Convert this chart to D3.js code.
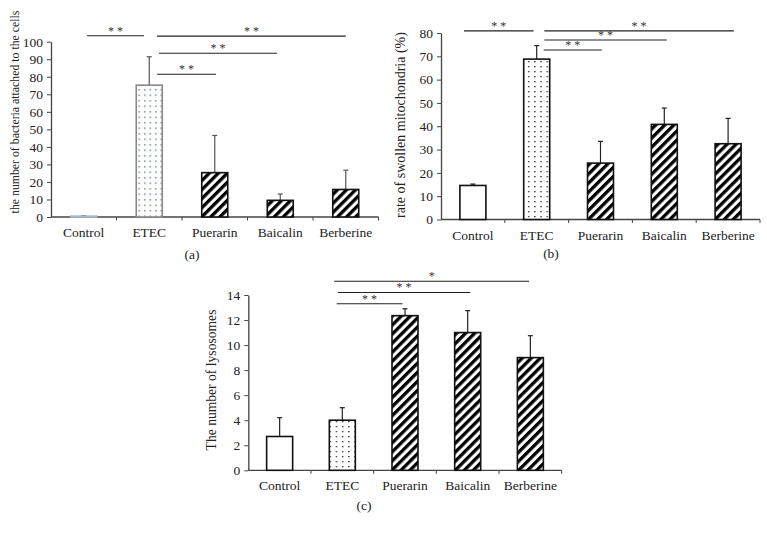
<!DOCTYPE html>
<html><head><meta charset="utf-8">
<script src="https://cdn.jsdelivr.net/npm/d3@7"></script>
<style>
html,body{margin:0;padding:0;background:#fff;}
svg{display:block;font-family:"Liberation Serif","Times New Roman",serif;}
</style></head>
<body>
<svg id="chart" width="767" height="534"></svg>
<script>
// ---- data ----
const categories = ["Control", "ETEC", "Puerarin", "Baicalin", "Berberine"];
const fills = ["plain", "dots", "hatch", "hatch", "hatch"];

const bacteriaMean = [0.5, 75.2, 25.3, 9.5, 15.7];
const bacteriaErr  = [0.3, 16.2, 21.2, 3.6, 11.0];
const bacteriaTicks = [0, 10, 20, 30, 40, 50, 60, 70, 80, 90, 100];

const mitoMean = [14.6, 68.8, 24.2, 40.8, 32.5];
const mitoErr  = [0.6, 5.8, 9.3, 7.0, 10.9];
const mitoTicks = [0, 10, 20, 30, 40, 50, 60, 70, 80];

const lysoMean = [2.7, 4.0, 12.35, 11.0, 9.0];
const lysoErr  = [1.5, 1.0, 0.55, 1.75, 1.75];
const lysoTicks = [0, 2, 4, 6, 8, 10, 12, 14];

// significance brackets: [from category pos, to category pos, level (data units), label]
const sigA = [[0.05, 0.92, 103.4, "* *"], [1.12, 4.0, 103.2, "* *"], [1.15, 2.95, 93.4, "* *"], [1.12, 2.02, 81.4, "* *"]];
const sigB = [[-0.14, 0.95, 80.9, "* *"], [1.12, 4.09, 80.9, "* *"], [1.12, 3.04, 77.0, "* *"], [1.11, 2.02, 72.7, "* *"]];
const sigC = [[0.91, 1.96, 13.3, "* *"], [0.93, 3.04, 14.2, "* *"], [0.87, 3.98, 15.1, "*"]];

// ---- drawing ----
const svg = d3.select("#chart");
const defs = svg.append("defs");

function hatch(id) {
  const p = defs.append("pattern").attr("id", id).attr("patternUnits", "userSpaceOnUse")
    .attr("width", 6.4).attr("height", 6.4).attr("patternTransform", "rotate(45)");
  p.append("rect").attr("width", 6.4).attr("height", 6.4).attr("fill", "#fff");
  p.append("rect").attr("width", 3.3).attr("height", 6.4).attr("fill", "#000");
}
function dots(id, color, w, h, s) {
  const p = defs.append("pattern").attr("id", id).attr("patternUnits", "userSpaceOnUse")
    .attr("width", w).attr("height", h);
  p.append("rect").attr("width", w).attr("height", h).attr("fill", "#fff");
  p.append("rect").attr("x", 1).attr("y", 1).attr("width", s).attr("height", s).attr("fill", color);
}
hatch("hatch");
dots("dotsA", "#6f89a8", 5.5, 5.5, 1.5);
dots("dotsB", "#222", 6.2, 5, 1.3);

function panel(cfg) {
  const g = svg.append("g");
  const x = d3.scaleBand().domain(categories).range(cfg.xr).paddingInner(0).paddingOuter(0);
  const y = d3.scaleLinear().domain([0, cfg.ymax]).range(cfg.yr);
  const bw = x.bandwidth();
  const pos = i => cfg.xr[0] + (i + 0.5) * bw;
  const barW = 26;

  // y axis
  const ya = g.append("g").attr("transform", `translate(${cfg.xr[0]},0)`)
    .call(d3.axisLeft(y).tickValues(cfg.ticks).tickSize(4).tickPadding(4).tickSizeOuter(0));
  ya.select(".domain").attr("stroke", "#444").attr("stroke-width", 1.3);
  ya.selectAll(".tick line").attr("stroke", "#444");
  ya.selectAll(".tick text").attr("fill", "#222").style("font-size", "13.5px")
    .style("font-family", "Liberation Serif");

  // x axis with ticks on band boundaries
  const base = y(0);
  g.append("line").attr("x1", cfg.xr[0]).attr("x2", cfg.xr[1]).attr("y1", base).attr("y2", base)
    .attr("stroke", "#444").attr("stroke-width", 1.3);
  g.selectAll(".xt").data(categories.slice(1).concat(["end"])).join("line")
    .attr("x1", (d, i) => cfg.xr[0] + (i + 1) * bw).attr("x2", (d, i) => cfg.xr[0] + (i + 1) * bw)
    .attr("y1", base).attr("y2", base + 3.5).attr("stroke", "#444");
  g.selectAll(".xl").data(categories).join("text")
    .attr("x", d => x(d) + bw / 2).attr("y", base + 20)
    .attr("text-anchor", "middle").attr("fill", "#222").style("font-size", "13.5px").text(d => d);

  // bars
  cfg.mean.forEach((v, i) => {
    const cx = x(categories[i]) + bw / 2;
    const f = fills[i];
    g.append("line").attr("x1", cx).attr("x2", cx).attr("y1", y(v)).attr("y2", y(v + cfg.err[i]))
      .attr("stroke", cfg.errColor).attr("stroke-width", 1.2);
    g.append("line").attr("x1", cx - 2.5).attr("x2", cx + 2.5)
      .attr("y1", y(v + cfg.err[i])).attr("y2", y(v + cfg.err[i]))
      .attr("stroke", cfg.errColor).attr("stroke-width", 1.2);
    let fill = "#fff", stroke = "#111";
    if (f === "dots") { fill = cfg.dotFill; stroke = cfg.dotStroke; }
    if (f === "hatch") fill = "url(#hatch)";
    if (f === "plain" && cfg.plainFill) { fill = cfg.plainFill; stroke = cfg.plainFill; }
    g.append("rect").attr("x", cx - barW / 2).attr("width", barW)
      .attr("y", y(v)).attr("height", base - y(v))
      .attr("fill", fill).attr("stroke", stroke).attr("stroke-width", 1.6);
  });

  // significance
  cfg.sig.forEach(s => {
    const yy = y(s[2]);
    g.append("line").attr("x1", pos(s[0])).attr("x2", pos(s[1])).attr("y1", yy).attr("y2", yy)
      .attr("stroke", "#222").attr("stroke-width", 1.1);
    g.append("text").attr("x", (pos(s[0]) + pos(s[1])) / 2).attr("y", yy - 1)
      .attr("text-anchor", "middle").attr("fill", "#333").style("font-size", "12px").text(s[3]);
  });

  // y label
  g.append("text").attr("transform", `translate(${cfg.labX},${cfg.labY}) rotate(-90)`)
    .attr("text-anchor", "middle").attr("fill", "#222").style("font-size", cfg.labSize + "px")
    .text(cfg.label);
  g.append("text").attr("x", cfg.letter[0]).attr("y", cfg.letter[1]).attr("text-anchor", "middle")
    .attr("fill", "#222").style("font-size", "13.5px").text(cfg.letter[2]);
}

panel({xr: [51, 378.5], yr: [217, 41.7], ymax: 100, ticks: bacteriaTicks, mean: bacteriaMean, err: bacteriaErr,
  sig: sigA, dotFill: "url(#dotsA)", dotStroke: "#888", plainFill: "#a9b9cc", errColor: "#555",
  label: "the number of bacteria attached to the cells", labX: 19, labY: 112, labSize: 11.8,
  letter: [192, 259, "(a)"]});
panel({xr: [441, 760], yr: [219.5, 33], ymax: 80, ticks: mitoTicks, mean: mitoMean, err: mitoErr,
  sig: sigB, dotFill: "url(#dotsB)", dotStroke: "#111", errColor: "#222",
  label: "rate of swollen mitochondria (%)", labX: 405, labY: 125, labSize: 14,
  letter: [551, 258, "(b)"]});
panel({xr: [248.3, 561.7], yr: [470.3, 295], ymax: 14, ticks: lysoTicks, mean: lysoMean, err: lysoErr,
  sig: sigC, dotFill: "url(#dotsB)", dotStroke: "#111", errColor: "#222",
  label: "The number of lysosomes", labX: 216, labY: 380, labSize: 13.6,
  letter: [364, 510, "(c)"]});
</script>
</body></html>
